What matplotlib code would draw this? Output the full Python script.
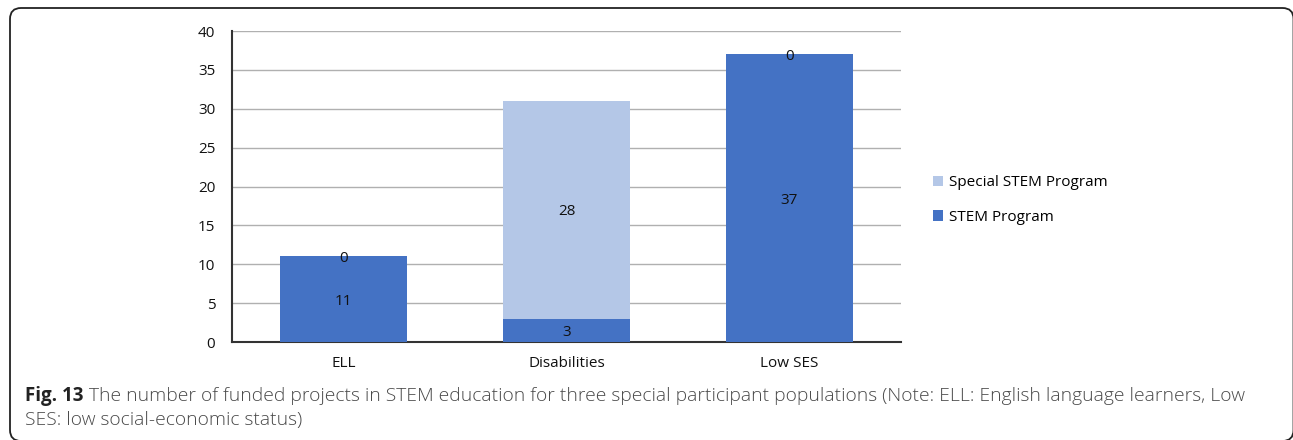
import matplotlib
matplotlib.use("Agg")
import matplotlib.pyplot as plt
from matplotlib.patches import FancyBboxPatch, Patch
from matplotlib.transforms import IdentityTransform

plt.rcParams['font.family'] = ['Open Sans', 'DejaVu Sans']

categories = ["ELL", "Disabilities", "Low SES"]
stem_program = [11, 3, 37]
special_stem_program = [0, 28, 0]
y_ticks = [0, 5, 10, 15, 20, 25, 30, 35, 40]
caption_bold = "Fig. 13"
caption_line1 = (" The number of funded projects in STEM education for three special participant "
                 "populations (Note: ELL: English language learners, Low")
caption_line2 = "SES: low social-economic status)"

W, H = 1293, 440
fig = plt.figure(figsize=(W / 100, H / 100), dpi=100)

# rounded frame around chart and caption (pixel coordinates, runs off right/bottom)
frame = FancyBboxPatch((10, -1), 1283.5, H - 8 + 1,
                       boxstyle="round,pad=0,rounding_size=11",
                       transform=IdentityTransform(), fill=False,
                       edgecolor="#222222", linewidth=1.3)
fig.patches.append(frame)

ax = fig.add_axes([232 / W, (H - 342) / H, (901 - 232) / W, (342 - 31) / H])

blue = "#4472C4"
light = "#B4C7E7"
x = list(range(len(categories)))
width = 0.57
ax.bar(x, stem_program, width, color=blue, zorder=3)
ax.bar(x, special_stem_program, width, bottom=stem_program, color=light, zorder=3)

for xi, s, sp in zip(x, stem_program, special_stem_program):
    ax.text(xi, s / 2, str(s), ha="center", va="center_baseline", fontsize=11,
            color="#111111", zorder=4)
    ax.text(xi, s + sp / 2, str(sp), ha="center", va="center_baseline", fontsize=11,
            color="#111111", zorder=4)

ax.set_xlim(-0.5, len(categories) - 0.5)
ax.set_ylim(0, 40)
ax.set_yticks(y_ticks)
ax.set_xticks(x)
ax.set_xticklabels(categories)
ax.tick_params(axis="both", length=0, labelsize=11, colors="#111111")
ax.tick_params(axis="y", pad=12)
ax.tick_params(axis="x", pad=10)
ax.yaxis.grid(True, color="#B0B0B0", linewidth=1.0, zorder=0)
ax.set_axisbelow(True)
for side in ["top", "right"]:
    ax.spines[side].set_visible(False)
for side in ["left", "bottom"]:
    ax.spines[side].set_color("#333333")
    ax.spines[side].set_linewidth(1.5)

handles = [Patch(facecolor=light, edgecolor="none", label="Special STEM Program"),
           Patch(facecolor=blue, edgecolor="none", label="STEM Program")]
fig.legend(handles=handles, loc="center left", bbox_to_anchor=(919 / W, 1 - 200 / H),
           frameon=False, fontsize=11, handlelength=0.7, handleheight=0.7,
           handletextpad=0.35, labelspacing=1.25)

# caption: bold figure number followed by regular text
y1 = 1 - 401 / H
y2 = 1 - 425 / H
fb = fig.text(25 / W, y1, caption_bold, fontsize=13.5, fontweight="bold",
              color="#222222", va="baseline", ha="left")
fig.canvas.draw()
bb = fb.get_window_extent(fig.canvas.get_renderer())
fig.text(bb.x1 / W, y1, caption_line1, fontsize=13.9, fontweight="light",
         color="#4a4a4a", va="baseline", ha="left")
fig.text(25 / W, y2, caption_line2, fontsize=13.9, fontweight="light",
         color="#4a4a4a", va="baseline", ha="left")

fig.savefig("out.png", dpi=100)
